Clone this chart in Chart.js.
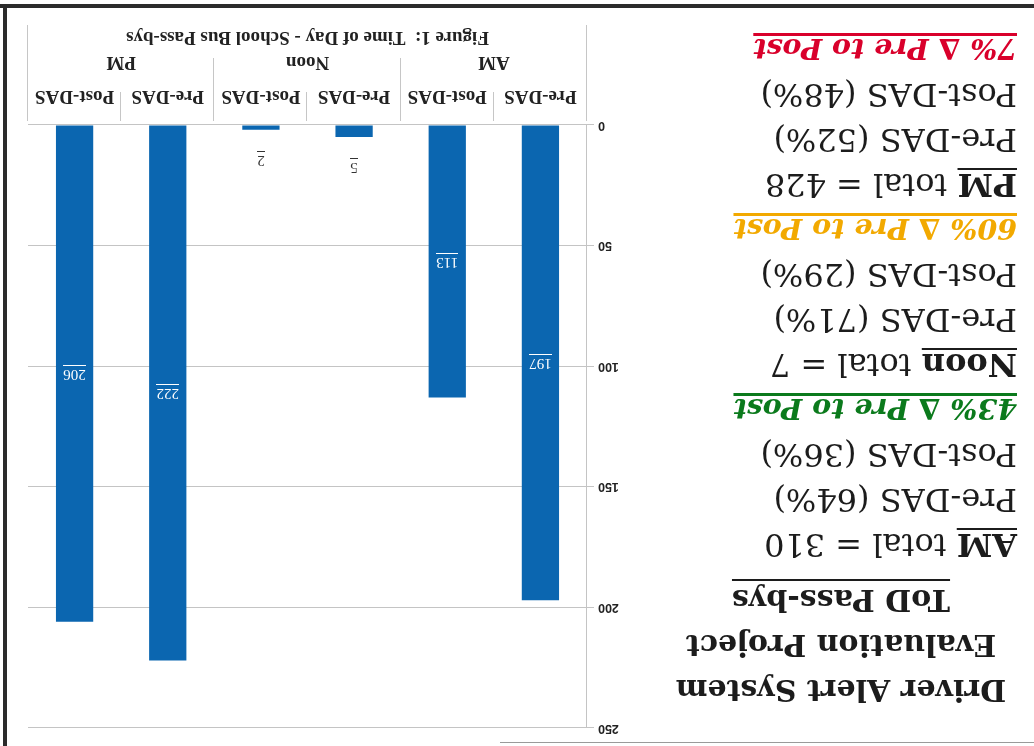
<!DOCTYPE html>
<html>
<head>
<meta charset="utf-8">
<script src="https://cdn.jsdelivr.net/npm/chart.js@4.4.1/dist/chart.umd.min.js"></script>
<style>
  html, body { margin: 0; padding: 0; background: #fff; }
  /* the scanned reference is upside down, so the whole sheet is turned */
  #page { position: relative; width: 1034px; height: 746px; overflow: hidden; background: #fff; transform: rotate(180deg); }
  #frameB { position: absolute; left: 0; top: 738px; width: 1034px; height: 4px; background: #2b2b2b; }
  #frameR { position: absolute; left: 1027px; top: 0; width: 4px; height: 742px; background: #2b2b2b; }
  #frameT { position: absolute; left: 0; top: 3px; width: 534px; height: 1px; background: #9a9a9a; }
  #chartBox { position: absolute; left: 397px; top: 0; }
  .ln { position: absolute; left: 17px; height: 40px; line-height: 40px; white-space: nowrap;
        font-family: 'DejaVu Serif', serif; font-size: 32px; color: #1c1c1c; }
  .head { width: 352px; text-align: center; font-weight: bold; font-size: 30px; }
  .u { text-decoration: underline; text-decoration-thickness: 2px; text-underline-offset: 4px; text-decoration-skip-ink: none; }
  .head.u { text-underline-offset: 9px; }
  .delta { font-weight: bold; font-style: italic; font-size: 28.5px; text-decoration: underline;
           text-decoration-thickness: 3px; text-underline-offset: 3px; text-decoration-skip-ink: none; }
</style>
</head>
<body>
<div id="page">
  <div id="frameT"></div>
  <div id="frameB"></div>
  <div id="frameR"></div>
  <div id="panel"></div>
  <div id="chartBox"><canvas id="bars" width="617" height="736"></canvas></div>
</div>
<script>
const subLabels = ['Pre-DAS', 'Post-DAS', 'Pre-DAS', 'Post-DAS', 'Pre-DAS', 'Post-DAS'];
const periods = ['AM', 'Noon', 'PM'];
const passBys = [197, 113, 5, 2, 222, 206];
const yTicks = [0, 50, 100, 150, 200, 250];
const chartTitle = 'Figure 1:  Time of Day - School Bus Pass-bys';

const headLines = ['Driver Alert System', 'Evaluation Project', 'ToD Pass-bys'];
const periodTotals = [310, 7, 428];
const prePct = [64, 71, 52];
const postPct = [36, 29, 48];
const changePct = [43, 60, 7];
const changeColors = ['#0b7a1c', '#f2a900', '#d9002b'];

const panel = document.getElementById('panel');

const addLine = (html, centerY, cls) => {
  const div = document.createElement('div');
  div.className = 'ln ' + (cls || '');
  div.style.top = (centerY - 20) + 'px';
  div.innerHTML = html;
  panel.appendChild(div);
  return div;
};

headLines.forEach((text, i) => {
  addLine(text, 56 + i * 45, i === 2 ? 'head u' : 'head');
});

periods.forEach((p, i) => {
  const top = 201 + i * 180;
  addLine(`<b class="u">${p}</b> total = ${periodTotals[i]}`, top);
  addLine(`Pre-DAS (${prePct[i]}%)`, top + 45);
  addLine(`Post-DAS (${postPct[i]}%)`, top + 90);
  const d = addLine(`<span class="delta">${changePct[i]}% \u2206 Pre to Post</span>`, top + 135);
  d.style.color = changeColors[i];
});

const separators = {
  id: 'separators',
  afterDraw(chart) {
    const xs = chart.scales.x;
    const ctx = chart.ctx;
    const bottom = chart.chartArea.bottom;
    const n = subLabels.length;
    const step = (xs.right - xs.left) / n;
    ctx.save();
    ctx.strokeStyle = '#c6c6c6';
    ctx.lineWidth = 1;
    for (let i = 0; i <= n; i++) {
      const x = Math.round(xs.left + i * step) + 0.5;
      let len = i % 2 === 0 ? 67 : 33;
      if (i === 0 || i === n) len = 100;
      ctx.beginPath();
      ctx.moveTo(x, bottom + 4);
      ctx.lineTo(x, bottom + len);
      ctx.stroke();
    }
    ctx.restore();
  }
};

const valueLabels = {
  id: 'valueLabels',
  afterDatasetsDraw(chart) {
    const ctx = chart.ctx;
    const meta = chart.getDatasetMeta(0);
    ctx.save();
    ctx.font = '15px "Liberation Serif"';
    ctx.textAlign = 'center';
    ctx.textBaseline = 'middle';
    meta.data.forEach((bar, i) => {
      const text = String(passBys[i]);
      const inside = bar.base - bar.y > 40;
      const y = inside ? (bar.y + bar.base) / 2 : bar.y - 30;
      ctx.fillStyle = inside ? '#ffffff' : '#333333';
      ctx.fillText(text, bar.x, y);
      const w = ctx.measureText(text).width;
      ctx.fillRect(Math.round(bar.x - w / 2), Math.round(y + 8), Math.ceil(w), 1);
    });
    ctx.restore();
  }
};

const labelFont = { family: 'Liberation Serif', weight: 'bold', size: 19 };

new Chart(document.getElementById('bars'), {
  type: 'bar',
  data: {
    labels: subLabels,
    datasets: [{
      data: passBys,
      backgroundColor: '#0b66b0',
      categoryPercentage: 1,
      barPercentage: 0.4,
      xAxisID: 'x',
      yAxisID: 'y'
    }]
  },
  options: {
    responsive: false,
    animation: false,
    layout: { padding: { top: 18, right: 8, bottom: 0, left: 0 } },
    plugins: { legend: { display: false }, tooltip: { enabled: false } },
    scales: {
      x: {
        type: 'category',
        position: 'bottom',
        weight: 0,
        offset: true,
        grid: { display: false },
        border: { display: false },
        ticks: { padding: 10, color: '#222', font: labelFont, maxRotation: 0, autoSkip: false },
        afterFit: (s) => { s.height = 37; }
      },
      x2: {
        type: 'category',
        labels: periods,
        position: 'bottom',
        weight: 1,
        offset: true,
        grid: { display: false },
        border: { display: false },
        ticks: { padding: 7, color: '#222', font: labelFont, maxRotation: 0, autoSkip: false },
        title: {
          display: true,
          text: chartTitle,
          color: '#222',
          font: { family: 'Liberation Serif', weight: 'bold', size: 19 },
          padding: { top: 0, bottom: 16 }
        },
        afterFit: (s) => { s.height = 78; }
      },
      y: {
        min: yTicks[0],
        max: yTicks[yTicks.length - 1],
        afterBuildTicks: (s) => { s.ticks = yTicks.map(v => ({ value: v })); },
        ticks: { padding: 4, color: '#222', font: { family: 'Liberation Sans', weight: 'bold', size: 12.5 } },
        grid: { color: '#c4c4c4', tickLength: 7 },
        border: { color: '#c4c4c4' },
        afterFit: (s) => { s.width = 50; }
      }
    }
  },
  plugins: [separators, valueLabels]
});
</script>
</body>
</html>
